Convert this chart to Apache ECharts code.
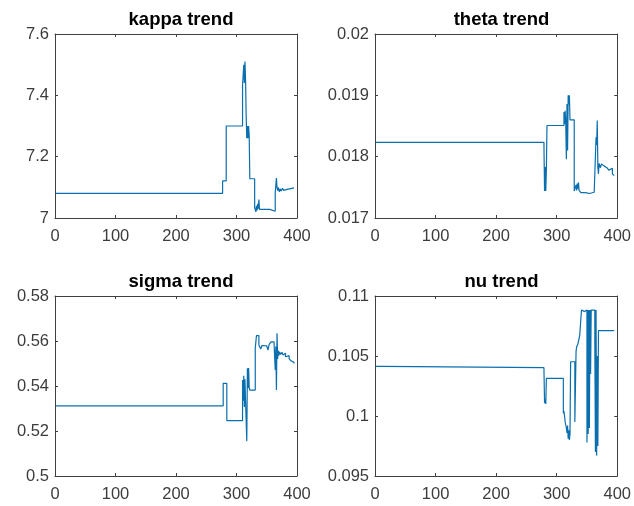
<!DOCTYPE html>
<html>
<head>
<meta charset="utf-8">
<script src="https://cdn.jsdelivr.net/npm/echarts@6/dist/echarts.min.js"></script>
<style>
html,body{margin:0;padding:0;background:#fff;}
#c{width:634px;height:506px;}
</style>
</head>
<body>
<div id="c"></div>
<script>
// ---- data (iteration index where value changes, value held until next index) ----
const titles = ['kappa trend', 'theta trend', 'sigma trend', 'nu trend'];
const xTicks = [0, 100, 200, 300, 400];

const kappaTicks = [7, 7.2, 7.4, 7.6];
const kappaIdx = [1, 277, 283, 310, 312, 313, 314, 315, 316, 317, 318, 319, 320, 321, 322, 330, 332, 333, 334, 335, 336, 337, 338, 355, 364, 366, 367, 368, 369, 371, 372, 374, 376, 378, 381, 385, 390, 395];
const kappaVal = [7.08, 7.121, 7.30, 7.433, 7.50, 7.44, 7.51, 7.45, 7.33, 7.26, 7.30, 7.26, 7.30, 7.27, 7.128, 7.034, 7.02, 7.04, 7.025, 7.046, 7.03, 7.06, 7.028, 7.022, 7.083, 7.13, 7.10, 7.089, 7.10, 7.085, 7.095, 7.088, 7.097, 7.09, 7.094, 7.096, 7.098, 7.10];

const thetaTicks = [0.017, 0.018, 0.019, 0.02];
const thetaIdx = [1, 279, 280, 281, 282, 283, 284, 312, 313, 314, 315, 316, 317, 318, 319, 320, 321, 322, 329, 332, 333, 334, 335, 336, 337, 340, 345, 350, 354, 357, 362, 365, 366, 367, 368, 369, 370, 372, 374, 376, 378, 380, 383, 386, 389, 392, 395];
const thetaVal = [0.018234, 0.01818, 0.01744, 0.01783, 0.01744, 0.0178, 0.018508, 0.018727, 0.018536, 0.01875, 0.01855, 0.01796, 0.01886, 0.0181, 0.019, 0.01885, 0.019, 0.0186, 0.01744, 0.01754, 0.01745, 0.01756, 0.01748, 0.01758, 0.01745, 0.017415, 0.01741, 0.0174, 0.01739, 0.01742, 0.01745, 0.018316, 0.01819, 0.01859, 0.01783, 0.01772, 0.01789, 0.01782, 0.01788, 0.01785, 0.01787, 0.01782, 0.01785, 0.01778, 0.01781, 0.01772, 0.01769];

const sigmaTicks = [0.5, 0.52, 0.54, 0.56, 0.58];
const sigmaIdx = [1, 278, 284, 310, 311, 312, 313, 314, 315, 317, 318, 319, 320, 321, 322, 331, 333, 337, 340, 342, 345, 350, 352, 354, 357, 362, 364, 365, 366, 367, 368, 369, 370, 371, 373, 375, 377, 379, 381, 384, 387, 390, 393, 395];
const sigmaVal = [0.5312, 0.5412, 0.5246, 0.5427, 0.5335, 0.5445, 0.5307, 0.543, 0.533, 0.5155, 0.5479, 0.539, 0.548, 0.5395, 0.5382, 0.5568, 0.5624, 0.5582, 0.5564, 0.558, 0.5578, 0.5576, 0.556, 0.5585, 0.5596, 0.5596, 0.5471, 0.5575, 0.5382, 0.5634, 0.552, 0.5558, 0.5535, 0.5552, 0.554, 0.555, 0.5538, 0.5546, 0.553, 0.5535, 0.5522, 0.5512, 0.5505, 0.55];

const nuTicks = [0.095, 0.1, 0.105, 0.11];
const nuIdx = [1, 12, 279, 280, 281, 282, 283, 311, 312, 313, 314, 316, 317, 318, 319, 320, 321, 322, 323, 330, 332, 333, 335, 338, 341, 344, 346, 350, 351, 352, 353, 354, 355, 356, 357, 363, 364, 365, 366, 367, 368, 369, 388, 390, 395];
const nuVal = [0.10414, 0.10403, 0.10383, 0.10106, 0.1014, 0.101, 0.10314, 0.10023, 0.1004, 0.1, 0.0995, 0.099, 0.0986, 0.0992, 0.0981, 0.0988, 0.098, 0.0985, 0.10452, 0.0995, 0.10536, 0.10578, 0.106, 0.1067, 0.10883, 0.1087, 0.10883, 0.0978, 0.10883, 0.0985, 0.10883, 0.099, 0.10883, 0.1035, 0.10883, 0.106, 0.097, 0.10883, 0.0967, 0.105, 0.0975, 0.10711, 0.107, 0.10711, 0.10711];

// ---- layout ----
const grids = [
  {left: 55, top: 34, width: 242, height: 184},
  {left: 375, top: 34, width: 243, height: 184},
  {left: 55, top: 296, width: 242, height: 180},
  {left: 375, top: 296, width: 243, height: 180}
];
const yTickSets = [kappaTicks, thetaTicks, sigmaTicks, nuTicks];
const seriesData = [
  [kappaIdx, kappaVal], [thetaIdx, thetaVal], [sigmaIdx, sigmaVal], [nuIdx, nuVal]
];

const boxColor = '#404040';
const lblColor = '#3c3c3c';
const fontFam = 'Liberation Sans, Arial, sans-serif';

const option = {
  animation: false,
  backgroundColor: '#fff',
  title: [], grid: [], xAxis: [], yAxis: [], series: []
};

grids.forEach((g, i) => {
  option.grid.push({left: g.left, top: g.top, width: g.width, height: g.height, containLabel: false});
  option.title.push({
    text: titles[i],
    left: g.left + g.width / 2,
    top: g.top - 29,
    textAlign: 'center',
    textStyle: {fontFamily: fontFam, fontSize: 18.5, fontWeight: 'bold', color: '#000'}
  });
  const xt = xTicks;
  const yt = yTickSets[i];
  const xBase = {
    type: 'value', gridIndex: i,
    min: xt[0], max: xt[xt.length - 1], interval: xt[1] - xt[0],
    axisLine: {show: true, onZero: false, lineStyle: {color: boxColor, width: 1}},
    axisTick: {show: true, inside: true, length: 3, lineStyle: {color: boxColor}},
    splitLine: {show: false}
  };
  option.xAxis.push(Object.assign({}, xBase, {
    position: 'bottom',
    axisLabel: {color: lblColor, fontFamily: fontFam, fontSize: 16.5, margin: 10}
  }));
  option.xAxis.push(Object.assign({}, xBase, {position: 'top', axisLabel: {show: false}}));
  const step = +(yt[1] - yt[0]).toFixed(6);
  const yBase = {
    type: 'value', gridIndex: i,
    min: yt[0], max: yt[yt.length - 1], interval: step,
    axisLine: {show: true, onZero: false, lineStyle: {color: boxColor, width: 1}},
    axisTick: {show: true, inside: true, length: 3, lineStyle: {color: boxColor}},
    splitLine: {show: false}
  };
  option.yAxis.push(Object.assign({}, yBase, {
    position: 'left',
    axisLabel: {color: lblColor, fontFamily: fontFam, fontSize: 16.5, margin: 6,
      formatter: v => String(+(+v).toFixed(5))}
  }));
  option.yAxis.push(Object.assign({}, yBase, {position: 'right', axisLabel: {show: false}}));

  const [idx, val] = seriesData[i];
  option.series.push({
    type: 'line',
    xAxisIndex: 2 * i, yAxisIndex: 2 * i,
    step: 'end',
    showSymbol: false,
    symbol: 'none',
    data: idx.map((x, k) => [x, val[k]]),
    lineStyle: {color: '#0a6fae', width: 1.2},
    itemStyle: {color: '#0a6fae'}
  });
});

const chart = echarts.init(document.getElementById('c'), null, {renderer: 'canvas'});
chart.setOption(option);
</script>
</body>
</html>
